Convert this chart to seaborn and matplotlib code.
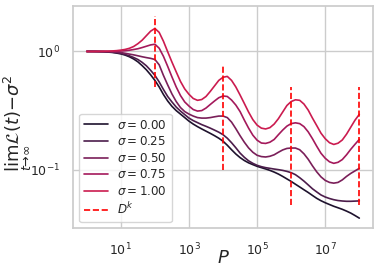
import numpy as np
import pandas as pd
import matplotlib
matplotlib.use("Agg")
import matplotlib.pyplot as plt
import seaborn as sns

# log10(P) sample positions (1/8 decade)
logP = [0, 0.125, 0.25, 0.375, 0.5, 0.625, 0.75, 0.875,
        1, 1.125, 1.25, 1.375, 1.5, 1.625, 1.75, 1.875,
        2, 2.125, 2.25, 2.375, 2.5, 2.625, 2.75, 2.875,
        3, 3.125, 3.25, 3.375, 3.5, 3.625, 3.75, 3.875,
        4, 4.125, 4.25, 4.375, 4.5, 4.625, 4.75, 4.875,
        5, 5.125, 5.25, 5.375, 5.5, 5.625, 5.75, 5.875,
        6, 6.125, 6.25, 6.375, 6.5, 6.625, 6.75, 6.875,
        7, 7.125, 7.25, 7.375, 7.5, 7.625, 7.75, 7.875, 8]

sigmas = [0.00, 0.25, 0.50, 0.75, 1.00]

loss_s000 = [1.000, 1.000, 0.998, 0.996, 0.994, 0.988, 0.981, 0.969,
             0.954, 0.932, 0.902, 0.864, 0.817, 0.759, 0.699, 0.634,
             0.569, 0.501, 0.4325, 0.381, 0.3434, 0.316, 0.2952, 0.2757,
             0.2574, 0.243, 0.2312, 0.221, 0.2117, 0.2028, 0.1938, 0.1845,
             0.174, 0.1609, 0.1474, 0.1357, 0.1265, 0.1195, 0.1142, 0.1103,
             0.1067, 0.1040, 0.1014, 0.0986, 0.0954, 0.0918, 0.0877, 0.0835,
             0.0795, 0.0753, 0.0714, 0.0676, 0.0641, 0.0605, 0.0572, 0.0546,
             0.0525, 0.0507, 0.0490, 0.0476, 0.0462, 0.0446, 0.0429, 0.0409, 0.0389]
loss_s025 = [1.000, 1.000, 1.000, 0.998, 0.996, 0.992, 0.986, 0.977,
             0.962, 0.943, 0.919, 0.889, 0.855, 0.809, 0.756, 0.692,
             0.6275, 0.5525, 0.477, 0.416, 0.374, 0.3387, 0.313, 0.2924,
             0.273, 0.260, 0.250, 0.2404, 0.2326, 0.2245, 0.216, 0.2075,
             0.1976, 0.1845, 0.169, 0.1532, 0.1381, 0.1272, 0.1188, 0.1131,
             0.1088, 0.106, 0.1040, 0.1026, 0.1012, 0.1000, 0.0986, 0.0967,
             0.0943, 0.0907, 0.0855, 0.0800, 0.0743, 0.0689, 0.0648, 0.0611,
             0.0587, 0.0570, 0.0557, 0.0548, 0.0543, 0.0540, 0.0540, 0.0542, 0.0544]
loss_s050 = [1.000, 1.000, 1.000, 0.999, 0.998, 0.996, 0.992, 0.986,
             0.979, 0.965, 0.950, 0.936, 0.919, 0.902, 0.887, 0.874,
             0.855, 0.771, 0.6275, 0.521, 0.437, 0.377, 0.3353, 0.310,
             0.2952, 0.284, 0.2757, 0.273, 0.273, 0.2757, 0.280, 0.284,
             0.284, 0.2757, 0.2524, 0.2223, 0.1938, 0.1707, 0.1527, 0.1403,
             0.1323, 0.129, 0.128, 0.1298, 0.1336, 0.1403, 0.1468, 0.1512,
             0.1524, 0.1524, 0.1474, 0.1362, 0.1224, 0.1077, 0.0958, 0.0869,
             0.0811, 0.0780, 0.0769, 0.0780, 0.0819, 0.0877, 0.0930, 0.0977, 0.1026]
loss_s075 = [1.000, 1.000, 1.000, 1.000, 1.000, 1.001, 1.002, 1.004,
             1.008, 1.014, 1.024, 1.038, 1.054, 1.079, 1.107, 1.136,
             1.151, 1.065, 0.910, 0.748, 0.609, 0.501, 0.424, 0.374,
             0.345, 0.3225, 0.313, 0.316, 0.332, 0.356, 0.381, 0.406,
             0.420, 0.416, 0.388, 0.352, 0.310, 0.2626, 0.2245, 0.1957,
             0.1775, 0.168, 0.1667, 0.1707, 0.180, 0.1976, 0.216, 0.2335,
             0.2452, 0.249, 0.2452, 0.2312, 0.2088, 0.1827, 0.1578, 0.1376,
             0.1248, 0.1165, 0.1131, 0.1154, 0.1217, 0.1336, 0.1488, 0.1641, 0.1803]
loss_s100 = [1.000, 1.000, 1.000, 1.002, 1.004, 1.006, 1.010, 1.016,
             1.026, 1.040, 1.063, 1.101, 1.163, 1.245, 1.360, 1.485,
             1.565, 1.450, 1.221, 0.994, 0.813, 0.672, 0.558, 0.482,
             0.434, 0.400, 0.386, 0.392, 0.416, 0.459, 0.511, 0.569,
             0.605, 0.615, 0.569, 0.501, 0.428, 0.363, 0.307, 0.265,
             0.238, 0.2245, 0.221, 0.2266, 0.243, 0.270, 0.307, 0.349,
             0.377, 0.390, 0.386, 0.359, 0.319, 0.273, 0.236, 0.2035,
             0.1827, 0.169, 0.1634, 0.1674, 0.1782, 0.1996, 0.229, 0.2626, 0.2935]

# D^k markers
Dk_x = [1e2, 1e4, 1e6, 1e8]
Dk_ymin = [0.5, 0.1, 0.05, 0.05]
Dk_ymax = [2.0, 0.77, 0.5, 0.5]

all_losses = [loss_s000, loss_s025, loss_s050, loss_s075, loss_s100]
P = [10 ** e for e in logP]
rows = []
for s, ls in zip(sigmas, all_losses):
    lab = r"$\sigma = %.2f$" % s
    for p, v in zip(P, ls):
        rows.append({"P": p, "loss": v, "sigma": lab})
df = pd.DataFrame(rows)

sns.set_theme(style="whitegrid")
cmap = sns.color_palette("rocket", as_cmap=True)
palette = [cmap(v) for v in [0.08, 0.2, 0.31, 0.41, 0.5]]

fig = plt.figure(figsize=(3.79, 2.74), dpi=100)
ax = fig.add_axes([0.193, 0.167, 0.791, 0.812])
sns.lineplot(data=df, x="P", y="loss", hue="sigma", palette=palette, ax=ax,
             linewidth=1.2, legend=True)
ax.vlines(Dk_x, Dk_ymin, Dk_ymax, colors="red", linestyles="--", linewidth=1.2,
          label=r"$D^k$")
ax.set_xscale("log")
ax.set_yscale("log")
ax.set_xlabel(r"$P$", fontsize=13)
ax.set_ylabel(r"$\lim_{t\to\infty}\mathcal{L}(t) - \sigma^2$", fontsize=13)
ax.xaxis.set_label_coords(0.5, -0.095)
ax.yaxis.set_label_coords(-0.13, 0.47)
ax.tick_params(labelsize=9)
handles, labels = ax.get_legend_handles_labels()
ax.legend(handles, labels, loc="lower left", fontsize=8.6, handlelength=2.0,
          labelspacing=0.3)
fig.savefig("out.png", dpi=100)
